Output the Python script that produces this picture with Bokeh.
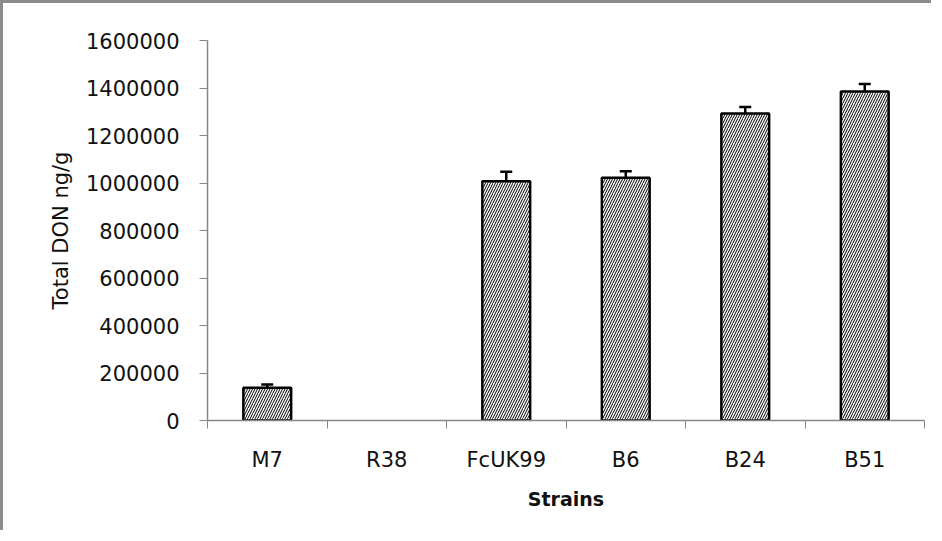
from bokeh.plotting import figure
from bokeh.models import Range1d, FixedTicker, ColumnDataSource, Whisker, TeeHead
from bokeh.embed import file_html
from bokeh.resources import INLINE

strains = ["M7", "R38", "FcUK99", "B6", "B24", "B51"]
don = [138000, 0, 1007000, 1022000, 1293000, 1385000]
err = [14000, 0, 40000, 27000, 27000, 32000]
y_ticks = [0, 200000, 400000, 600000, 800000, 1000000, 1200000, 1400000, 1600000]

FONT = "DejaVu Sans"
AXIS = "#868686"
TXT = "#111111"

xs = [i + 0.5 for i in range(len(strains))]
keep = [i for i, d in enumerate(don) if d > 0]
src = ColumnDataSource(dict(x=[xs[i] for i in keep], top=[don[i] for i in keep]))
err_src = ColumnDataSource(dict(
    x=[xs[i] for i in keep],
    upper=[don[i] + err[i] for i in keep],
    lower=[don[i] - err[i] for i in keep]))

p = figure(width=931, height=530, output_backend="svg", toolbar_location=None,
           x_range=Range1d(0, len(strains)), y_range=Range1d(0, 1600000),
           min_border_left=204, min_border_right=10, min_border_top=37, min_border_bottom=113)
p.styles = {"border-left": "3px solid #8c8c8c", "border-top": "3px solid #8c8c8c"}
p.outline_line_color = None
p.grid.visible = False
p.background_fill_color = "white"
p.border_fill_color = "white"

p.vbar(x="x", top="top", width=0.4, source=src, fill_color="white",
       line_color="black", line_width=2.5,
       hatch_pattern="right_diagonal_line", hatch_color="black",
       hatch_scale=5, hatch_weight=1)

w = Whisker(base="x", upper="upper", lower="lower", source=err_src,
            line_color="black", line_width=2.5,
            upper_head=TeeHead(size=12, line_width=2.5, line_color="black"),
            lower_head=TeeHead(size=12, line_width=2.5, line_color="black"))
p.add_layout(w)

xa = p.xaxis[0]
xa.ticker = FixedTicker(ticks=xs, minor_ticks=list(range(len(strains) + 1)))
xa.major_label_overrides = {x: s for x, s in zip(xs, strains)}
xa.major_tick_line_color = None
xa.minor_tick_in = 0
xa.minor_tick_out = 8
xa.minor_tick_line_color = AXIS
xa.axis_line_color = AXIS
xa.axis_line_width = 1.5
xa.major_label_text_font = FONT
xa.major_label_text_font_size = "21px"
xa.major_label_text_color = TXT
xa.major_label_standoff = 19
xa.axis_label = "Strains"
xa.axis_label_text_font = FONT
xa.axis_label_text_font_style = "bold"
xa.axis_label_text_font_size = "19px"
xa.axis_label_standoff = 13
xa.axis_label_text_color = TXT

ya = p.yaxis[0]
ya.ticker = FixedTicker(ticks=y_ticks, minor_ticks=[])
ya.major_tick_in = 0
ya.major_tick_out = 8
ya.major_tick_line_color = AXIS
ya.axis_line_color = AXIS
ya.axis_line_width = 1.5
ya.major_label_text_font = FONT
ya.major_label_text_font_size = "21px"
ya.major_label_text_color = TXT
ya.major_label_standoff = 20
ya.formatter.use_scientific = False
ya.axis_label = "Total DON ng/g"
ya.axis_label_text_font = FONT
ya.axis_label_text_font_style = "normal"
ya.axis_label_text_font_size = "21px"
ya.axis_label_standoff = 10
ya.axis_label_text_color = TXT

open("out.html", "w").write(file_html(p, INLINE))
